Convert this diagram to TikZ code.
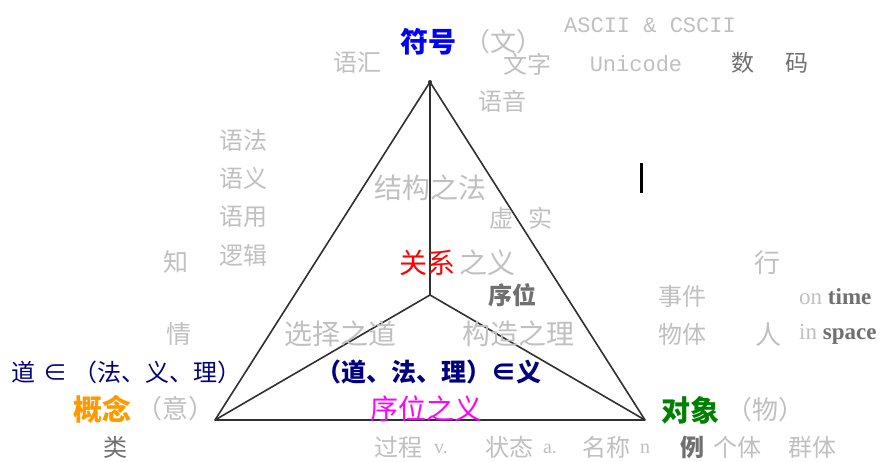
\documentclass[tikz,border=0pt]{standalone}
\usepackage{fontspec}
\setmainfont{Noto Sans CJK SC}
\newfontfamily\serifl{Liberation Serif}
\newfontfamily\monol{Liberation Mono}
\definecolor{lg}{HTML}{C0C0C0}
\definecolor{dg}{HTML}{707070}
\definecolor{edgec}{HTML}{303030}
\definecolor{navyc}{HTML}{000080}
\definecolor{orangec}{HTML}{FF9900}
\definecolor{greenc}{HTML}{008000}
\definecolor{bluec}{HTML}{0000FF}
\definecolor{magc}{HTML}{FF00FF}
\begin{document}
\begin{tikzpicture}[x=1pt,y=-1pt,
  every node/.style={inner sep=0pt,anchor=center},
  fs/.style={font=\fontsize{#1}{#1}\selectfont},
  light/.style={text=lg,fs=#1},
  dark/.style={text=dg,fs=#1},
  latin/.style={font=\serifl\fontsize{#1}{#1}\selectfont},
  edge/.style={draw=edgec,line width=1.6pt,line join=round}]
\useasboundingbox[fill=white] (0,0) rectangle (884,461);
% triangle
\coordinate (A) at (430,82);
\coordinate (L) at (215,420);
\coordinate (R) at (645,420);
\coordinate (C) at (430,295);
\draw[edge] (A) -- (L) -- (R) -- cycle;
\draw[edge] (A) -- (C);
\draw[edge] (C) -- (L);
\draw[edge] (C) -- (R);
\fill[edgec] (A) circle (2);
\coordinate (barT) at (641,163);
\coordinate (barB) at (641,193);
\draw[black,line width=3pt] (barT) -- (barB);
% top
\node[text=bluec,font=\fontsize{28}{28}\selectfont\bfseries] (fuhao) at (428,42) {符号};
\node[light=26] (wen) at (503,42) {（文）};
\node[light=24] (yuhui) at (357,63) {语汇};
\node[light=24] (wenzi) at (527,64) {文字};
\node[light=24] (yuyin) at (502,101) {语音};
\node[text=lg,font=\monol\fontsize{22}{22}\selectfont] (ascii) at (650,25) {ASCII \& CSCII};
\node[text=lg,font=\monol\fontsize{22}{22}\selectfont] (unicode) at (636,64) {Unicode};
\node[dark=23] (shu) at (743,63) {数};
\node[dark=23] (ma) at (797,63) {码};
% left column
\node[light=24] (yufa) at (243,140) {语法};
\node[light=24] (yuyi) at (243,178) {语义};
\node[light=24] (yuyong) at (243,217) {语用};
\node[light=24] (luoji) at (243,255) {逻辑};
\node[light=25] (zhi) at (176,262) {知};
\node[light=25] (qing) at (179,334) {情};
% center
\node[light=28] (jiegou) at (430,188) {结构之法};
\node[light=24] (xu) at (501,218) {虚};
\node[light=24] (shi) at (540,218) {实};
\node[text=red,fs=28] (guanxi) at (427,263) {关系};
\node[light=28] (zhiyi) at (487,263) {之义};
\node[text=dg,font=\fontsize{24}{24}\selectfont\bfseries] (xuwei) at (512,295) {序位};
\node[light=28] (xuanze) at (340,334) {选择之道};
\node[light=28] (gouzao) at (518,334) {构造之理};
\node[text=navyc,font=\fontsize{25}{25}\selectfont\bfseries] (daofa) at (429,372) {（道、法、理）∈义};
\node[text=magc,fs=28] (xuweizhiyi) at (426,409) {序位之义};
% right column
\node[light=24] (shijian) at (682,296) {事件};
\node[light=24] (wuti) at (682,334) {物体};
\node[light=26] (xing) at (767,263) {行};
\node[light=26] (ren) at (768,335) {人};
\node[anchor=west,latin=23] (ontime) at (799,297) {\textcolor{lg}{on} \textcolor{dg}{\bfseries time}};
\node[anchor=west,latin=23] (inspace) at (799,334) {\textcolor{lg}{in} \textcolor{dg}{\bfseries space}};
% left bottom
\node[text=navyc,fs=24] (dao) at (127,372) {道\hspace{8pt}∈\hspace{6pt}（法、义、理）};
\node[text=orangec,font=\fontsize{29}{29}\selectfont\bfseries] (gainian) at (102,409) {概念};
\node[light=26] (yi) at (175,409) {（意）};
\node[dark=24] (lei) at (115,447) {类};
% right bottom
\node[text=greenc,font=\fontsize{29}{29}\selectfont\bfseries] (duixiang) at (690,410) {对象};
\node[light=26] (wu) at (765,410) {（物）};
% bottom row
\node[light=24] (guocheng) at (398,447) {过程};
\node[text=lg,latin=20] (v) at (441,449) {v.};
\node[light=24] (zhuangtai) at (509,447) {状态};
\node[text=lg,latin=20] (a) at (550,449) {a.};
\node[light=24] (mingcheng) at (606,447) {名称};
\node[text=lg,latin=20] (n) at (645,449) {n};
\node[text=dg,font=\fontsize{24}{24}\selectfont\bfseries] (li) at (692,447) {例};
\node[light=24] (geti) at (737,447) {个体};
\node[light=24] (qunti) at (812,447) {群体};
\end{tikzpicture}
\end{document}
